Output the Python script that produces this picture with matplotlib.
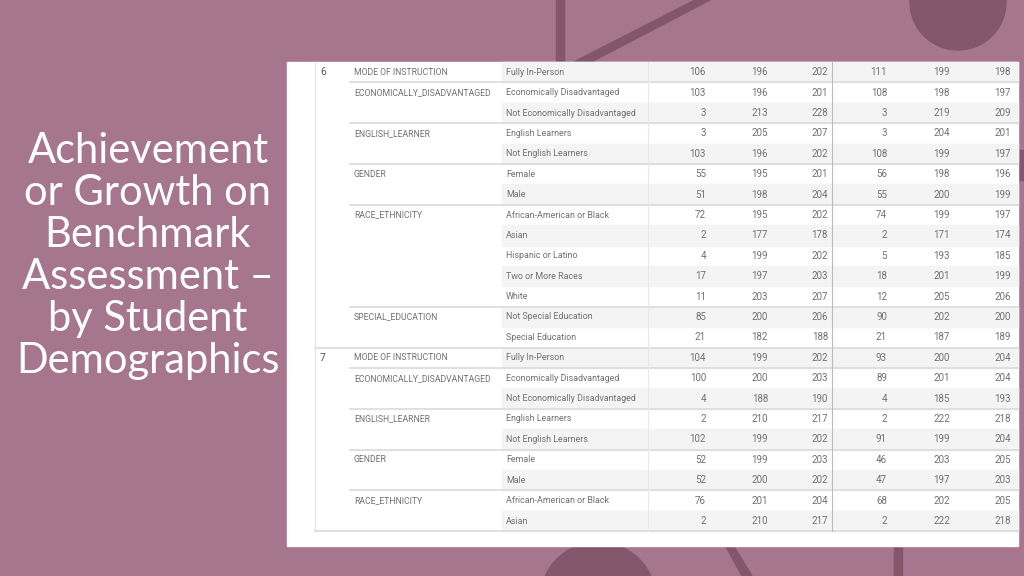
import matplotlib.pyplot as plt
from matplotlib.patches import Rectangle, Circle, Polygon

# table rows
grade = ['6'] + [''] * 13 + ['7'] + [''] * 8
category = ['MODE OF INSTRUCTION', 'ECONOMICALLY_DISADVANTAGED', '', 'ENGLISH_LEARNER', '',
            'GENDER', '', 'RACE_ETHNICITY', '', '', '', '', 'SPECIAL_EDUCATION', '',
            'MODE OF INSTRUCTION', 'ECONOMICALLY_DISADVANTAGED', '', 'ENGLISH_LEARNER', '',
            'GENDER', '', 'RACE_ETHNICITY', '']
subcategory = ['Fully In-Person', 'Economically Disadvantaged', 'Not Economically Disadvantaged',
               'English Learners', 'Not English Learners', 'Female', 'Male',
               'African-American or Black', 'Asian', 'Hispanic or Latino', 'Two or More Races',
               'White', 'Not Special Education', 'Special Education',
               'Fully In-Person', 'Economically Disadvantaged', 'Not Economically Disadvantaged',
               'English Learners', 'Not English Learners', 'Female', 'Male',
               'African-American or Black', 'Asian']
col1 = [106, 103, 3, 3, 103, 55, 51, 72, 2, 4, 17, 11, 85, 21, 104, 100, 4, 2, 102, 52, 52, 76, 2]
col2 = [196, 196, 213, 205, 196, 195, 198, 195, 177, 199, 197, 203, 200, 182, 199, 200, 188, 210, 199, 199, 200, 201, 210]
col3 = [202, 201, 228, 207, 202, 201, 204, 202, 178, 202, 203, 207, 206, 188, 202, 203, 190, 217, 202, 203, 202, 204, 217]
col4 = [111, 108, 3, 3, 108, 56, 55, 74, 2, 5, 18, 12, 90, 21, 93, 89, 4, 2, 91, 46, 47, 68, 2]
col5 = [199, 198, 219, 204, 199, 198, 200, 199, 171, 193, 201, 205, 202, 187, 200, 201, 185, 222, 199, 203, 197, 202, 222]
col6 = [198, 197, 209, 201, 197, 196, 199, 197, 174, 185, 199, 206, 200, 189, 204, 204, 193, 218, 204, 205, 203, 205, 218]

title = 'Achievement\nor Growth on\nBenchmark\nAssessment –\nby Student\nDemographics'

bg = '#A6758E'
dark = '#83566C'
txt = '#707070'
tfont = 'Roboto'

fig = plt.figure(figsize=(10.24, 5.76), dpi=100, facecolor=bg)
ax = fig.add_axes([0, 0, 1, 1])
ax.set_xlim(0, 1024)
ax.set_ylim(576, 0)
ax.axis('off')

# decorations
ax.add_patch(Rectangle((556, 0), 8, 70, color=dark, zorder=1))
ax.add_patch(Polygon([(566, 66), (695, 0), (710, 0), (572, 72)], color=dark, zorder=1))
ax.add_patch(Circle((958, 2), 48, color=dark, zorder=1))
ax.add_patch(Circle((598, 600), 58, color=dark, zorder=1))
ax.add_patch(Polygon([(725, 545), (733, 545), (752, 576), (742, 576)], color=dark, zorder=1))
ax.add_patch(Rectangle((894, 540), 8, 36, color=dark, zorder=1))
ax.add_patch(Rectangle((1016, 150), 8, 30, color=dark, zorder=1))

# table panel
ax.add_patch(Rectangle((287, 62), 731, 484, color='white', zorder=2))

top = 62
rh = 20.4
n = len(subcategory)
for i in range(n):
    y0 = top + i * rh
    yc = y0 + rh / 2
    if i % 2 == 0:
        ax.add_patch(Rectangle((502, y0), 516, rh, color='#F4F4F4', zorder=3))
    ax.text(320, yc, grade[i], fontsize=7.5, color='#555555', va='center', ha='left',
            family=tfont, zorder=5)
    ax.text(354, yc, category[i], fontsize=6.2, color=txt, va='center', ha='left',
            family=tfont, zorder=5)
    ax.text(506, yc, subcategory[i], fontsize=6.4, color=txt, va='center', ha='left',
            family=tfont, zorder=5)
    for x, col in zip([706, 768, 828, 887, 950, 1011], [col1, col2, col3, col4, col5, col6]):
        ax.text(x, yc, str(col[i]), fontsize=7, color=txt, va='center', ha='right',
                family=tfont, zorder=5)
    if i > 0 and category[i]:
        x0 = 315 if grade[i] else 350
        ax.plot([x0, 1018], [y0, y0], color='#DADADA', lw=1.2, zorder=4)

ax.plot([315, 1018], [top + n * rh, top + n * rh], color='#DADADA', lw=1.2, zorder=4)
ax.plot([315, 315], [top, top + n * rh], color='#E4E4E4', lw=0.8, zorder=4)
ax.plot([832, 832], [top, top + n * rh], color='#BBBBBB', lw=0.8, zorder=4)
ax.plot([648, 648], [top, top + n * rh], color='#E8E8E8', lw=0.8, zorder=4)

ax.text(148, 256, title, fontsize=30, color='white', ha='center', va='center',
        family='Lato', linespacing=1.13, zorder=5)

fig.savefig('out.png', dpi=100, facecolor=bg)
